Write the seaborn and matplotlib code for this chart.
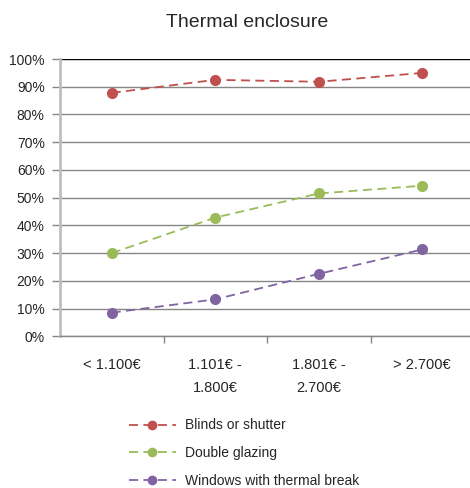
import matplotlib
matplotlib.use("Agg")
import matplotlib.pyplot as plt
import seaborn as sns
import pandas as pd
import numpy as np
from matplotlib.lines import Line2D

categories = ["< 1.100€", "1.101€ -\n1.800€", "1.801€ -\n2.700€", "> 2.700€"]
series_names = ["Blinds or shutter", "Double glazing", "Windows with thermal break"]
blinds = [87.8, 92.5, 91.8, 95.0]
double_glazing = [30.0, 42.8, 51.5, 54.3]
windows_tb = [8.5, 13.3, 22.5, 31.3]
y_ticks = [0, 10, 20, 30, 40, 50, 60, 70, 80, 90, 100]
colors = ["#C0504D", "#9BBB59", "#8064A2"]

sns.set_theme(style="white")
plt.rcParams['font.family'] = ['Liberation Sans', 'DejaVu Sans']

rows = []
for name, vals in zip(series_names, [blinds, double_glazing, windows_tb]):
    for i, v in enumerate(vals):
        rows.append({"pos": i, "value": v, "series": name})
df = pd.DataFrame(rows)

fig = plt.figure(figsize=(4.70, 4.88), dpi=100)
ax = fig.add_axes([60 / 470, 0.311, 414 / 470, 0.568])

sns.lineplot(data=df, x="pos", y="value", hue="series", palette=colors,
             marker="o", markersize=8, markeredgewidth=0, linewidth=1.3,
             ax=ax, legend=False)
for line in ax.get_lines():
    line.set_dashes([5, 3])

ax.set_xlim(-0.5, 3.5)
ax.set_ylim(0, 100)
ax.set_yticks(y_ticks)
ax.set_yticklabels([f"{t}%" for t in y_ticks], fontsize=10)
ax.set_xticks(range(len(categories)))
ax.set_xticklabels(categories, fontsize=10.5, linespacing=1.75)
ax.tick_params(axis="x", length=0, pad=16)
ax.set_xticks([0.5, 1.5, 2.5], minor=True)
ax.tick_params(axis="x", which="minor", length=5, color="#868686", width=1, direction="out", bottom=True)
ax.tick_params(axis="y", length=6, color="#868686", width=1, direction="out", left=True, pad=5)
ax.set_xlabel("")
ax.set_ylabel("")

for t in y_ticks:
    ax.axhline(t, color="#000000" if t == 100 else "#868686", linewidth=1, zorder=0)

for s in ["top", "right"]:
    ax.spines[s].set_visible(False)
ax.spines["left"].set_color("#BFBFBF")
ax.spines["left"].set_linewidth(2)
ax.spines["bottom"].set_color("#868686")
ax.spines["bottom"].set_linewidth(1)

fig.text(0.525, 0.953, "Thermal enclosure", ha="center", va="center", fontsize=14)

handles = [Line2D([0], [0], color=c, linestyle=(0, (5, 3)), linewidth=1.3, marker="o",
                  markersize=7, markeredgewidth=0) for c in colors]
fig.legend(handles, series_names, loc="upper left", bbox_to_anchor=(0.262, 0.154),
           frameon=False, fontsize=10, handlelength=3.4, labelspacing=0.98,
           handletextpad=0.65, borderaxespad=0)

fig.savefig("out.png", dpi=100)
